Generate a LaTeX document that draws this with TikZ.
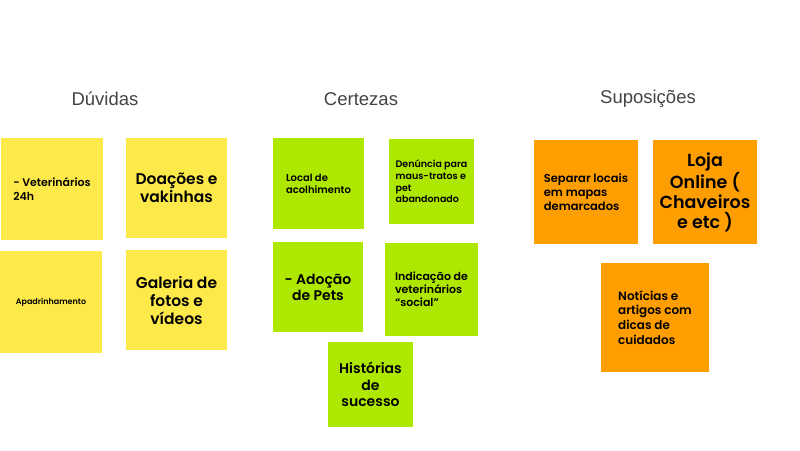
\documentclass[tikz,border=0pt]{standalone}
\usepackage{fontspec}
\setmainfont{Poppins}[BoldFont=Poppins SemiBold]
\newfontfamily\titlefont{Liberation Sans}
\definecolor{ynote}{RGB}{254,233,74}
\definecolor{gnote}{RGB}{174,232,0}
\definecolor{onote}{RGB}{255,158,0}
\definecolor{titlegrey}{RGB}{68,68,72}
\begin{document}
\begin{tikzpicture}[x=1pt,y=-1pt,
  note/.style={inner sep=0pt, align=left, text=black},
  nsz/.style 2 args={minimum width=#1pt, minimum height=#2pt},
  ybox/.style={note, fill=ynote},
  gbox/.style={note, fill=gnote},
  obox/.style={note, fill=onote},
  title/.style={font=\titlefont\fontsize{18.5}{21}\selectfont, text=titlegrey, inner sep=0pt}]
\useasboundingbox (0,0) rectangle (800,450);
\fill[white] (0,0) rectangle (800,450);
% titles
\node[title] (tduv) at (105,99) {Dúvidas};
\node[title] (tcer) at (361,99) {Certezas};
\node[title] (tsup) at (648,99) {Suposições};
% Dúvidas
\node[ybox, nsz={102}{102}, font=\bfseries\fontsize{11}{14}\selectfont] (vet) at (52,189) {- Veterinários\\24h};
\node[ybox, nsz={101}{100}, align=center, font=\bfseries\fontsize{15.5}{18}\selectfont] (doa) at (176.5,188) {Doações e\\vakinhas};
\node[ybox, nsz={102}{102}, align=center, font=\bfseries\fontsize{8}{10}\selectfont] (apa) at (51,302) {Apadrinhamento};
\node[ybox, nsz={101}{100}, align=center, font=\bfseries\fontsize{15.5}{18}\selectfont] (gal) at (176.5,300) {Galeria de\\fotos e\\vídeos};
% Certezas
\node[gbox, nsz={91}{91}, font=\bfseries\fontsize{10}{12}\selectfont] (loc) at (318.5,183.5) {Local de\\acolhimento};
\node[gbox, nsz={85}{85}, font=\bfseries\fontsize{9.5}{11.7}\selectfont] (den) at (431.5,181.5) {Denúncia para\\maus-tratos e\\pet\\abandonado};
\node[gbox, nsz={90}{90}, align=center, font=\bfseries\fontsize{14}{16}\selectfont] (ado) at (318,287) {- Adoção\\de Pets};
\node[gbox, nsz={93}{93}, font=\bfseries\fontsize{11}{13}\selectfont] (ind) at (431.5,289.5) {Indicação de\\veterinários\\“social”};
\node[gbox, nsz={85}{85}, align=center, font=\bfseries\fontsize{14}{16.7}\selectfont] (his) at (370.5,384.5) {Histórias\\de\\sucesso};
% Suposições
\node[obox, nsz={104}{104}, font=\bfseries\fontsize{11.5}{14}\selectfont] (sep) at (586,192) {Separar locais\\em mapas\\demarcados};
\node[obox, nsz={104}{104}, align=center, font=\bfseries\fontsize{17.5}{20}\selectfont] (loj) at (705,192) {Loja\\Online (\\Chaveiros\\e etc )};
\node[obox, nsz={108}{109}, font=\bfseries\fontsize{12}{14.7}\selectfont] (not) at (655,317.5) {Notícias e\\artigos com\\dicas de\\cuidados};
\end{tikzpicture}
\end{document}
